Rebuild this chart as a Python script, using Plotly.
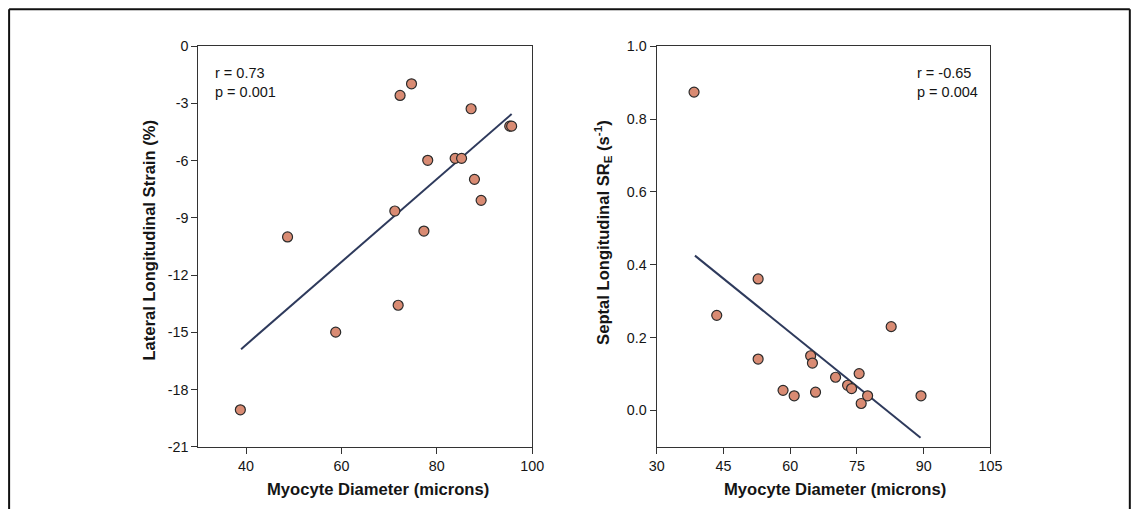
import plotly.graph_objects as go

# Lateral longitudinal strain vs myocyte diameter
lat_diameter = [38.8, 48.7, 58.8, 71.2, 71.9, 72.3, 74.7, 77.3, 78.1, 83.85, 85.2, 87.2, 87.9, 89.3, 95.3, 95.7]
lat_strain = [-19.06, -10.0, -14.99, -8.64, -13.58, -2.58, -1.97, -9.69, -5.98, -5.88, -5.88, -3.28, -6.98, -8.08, -4.19, -4.19]
lat_fit_x = [38.95, 95.7]
lat_fit_y = [-15.88, -3.56]

# Septal longitudinal early strain rate vs myocyte diameter
sep_diameter = [38.4, 43.5, 52.8, 52.8, 58.4, 60.9, 64.6, 65.0, 65.7, 70.2, 72.9, 73.8, 75.5, 75.96, 77.4, 82.7, 89.4]
sep_sre = [0.874, 0.261, 0.361, 0.141, 0.055, 0.040, 0.150, 0.130, 0.050, 0.091, 0.069, 0.060, 0.101, 0.019, 0.040, 0.230, 0.040]
sep_fit_x = [38.6, 89.3]
sep_fit_y = [0.425, -0.075]

lat_yticks = [0, -3, -6, -9, -12, -15, -18, -21]
lat_ytick_text = ["0", "-3", "-6", "-9", "-12", "-15", "-18", "-21"]
lat_xticks = [40, 60, 80, 100]
sep_yticks = [0.0, 0.2, 0.4, 0.6, 0.8, 1.0]
sep_ytick_text = ["0.0", "0.2", "0.4", "0.6", "0.8", "1.0"]
sep_xticks = [30, 45, 60, 75, 90, 105]

W, H = 1143, 517
# the figure sits inside the page's default 8px body margin; the whole page
# (figure + margins) is then shown at W x H, so positions below are given in
# shown-page pixels and converted to paper fractions here
BODY_MARGIN = 8
SX = (W + 2 * BODY_MARGIN) / W
SY = (H + 2 * BODY_MARGIN) / H

FONT = "Liberation Sans, Arial, Helvetica, sans-serif"
AXIS_COLOR = "#333333"
TEXT_COLOR = "#151515"
MARKER = dict(size=10, color="#d98b73", line=dict(color="#2b2b2b", width=1.2))
FIT_LINE = dict(color="#2e3a5c", width=2)


def px_x(p):
    return (p * SX - BODY_MARGIN) / W


def px_y(p):
    return 1 - (p * SY - BODY_MARGIN) / H


fig = go.Figure()

fig.add_trace(go.Scatter(x=lat_fit_x, y=lat_fit_y, mode="lines", line=FIT_LINE,
                         xaxis="x", yaxis="y", showlegend=False, hoverinfo="skip"))
fig.add_trace(go.Scatter(x=lat_diameter, y=lat_strain, mode="markers", marker=MARKER,
                         xaxis="x", yaxis="y", showlegend=False))
fig.add_trace(go.Scatter(x=sep_fit_x, y=sep_fit_y, mode="lines", line=FIT_LINE,
                         xaxis="x2", yaxis="y2", showlegend=False, hoverinfo="skip"))
fig.add_trace(go.Scatter(x=sep_diameter, y=sep_sre, mode="markers", marker=MARKER,
                         xaxis="x2", yaxis="y2", showlegend=False))

axis_common = dict(
    showgrid=False, zeroline=False, showline=True, linecolor=AXIS_COLOR, linewidth=1.3,
    mirror=True, ticks="outside", ticklen=6, tickwidth=1.3, tickcolor=AXIS_COLOR,
    tickfont=dict(family=FONT, size=14.3, color=TEXT_COLOR),
)

ydom = [px_y(447), px_y(46)]

fig.update_layout(
    width=W, height=H, margin=dict(l=0, r=0, t=0, b=0),
    paper_bgcolor="white", plot_bgcolor="white",
    font=dict(family=FONT, color=TEXT_COLOR),
    xaxis=dict(domain=[px_x(199), px_x(534)], range=[30, 100], tickvals=lat_xticks,
               anchor="y", **axis_common),
    yaxis=dict(domain=ydom, range=[-21, 0], tickvals=lat_yticks, ticktext=lat_ytick_text,
               anchor="x", **axis_common),
    xaxis2=dict(domain=[px_x(659), px_x(994)], range=[30, 105], tickvals=sep_xticks,
                anchor="y2", **axis_common),
    yaxis2=dict(domain=ydom, range=[-0.1, 1.0], tickvals=sep_yticks, ticktext=sep_ytick_text,
                anchor="x2", **axis_common),
)

title_font = dict(family=FONT, size=16.6, color=TEXT_COLOR)
stat_font = dict(family=FONT, size=14.5, color=TEXT_COLOR)

annotations = [
    dict(text="<b>Myocyte Diameter (microns)</b>", x=px_x(379), y=px_y(490)),
    dict(text="<b>Myocyte Diameter (microns)</b>", x=px_x(838), y=px_y(490)),
    dict(text="<b>Lateral Longitudinal Strain (%)</b>", x=px_x(149), y=px_y(240), textangle=-90),
    dict(text="<b>Septal Longitudinal SR<sub>E</sub> (s<sup>-1</sup>)</b>", x=px_x(604), y=px_y(232),
         textangle=-90),
]
for a in annotations:
    fig.add_annotation(xref="paper", yref="paper", showarrow=False, font=title_font,
                       xanchor="center", yanchor="middle", **a)

stats = [
    ("r = 0.73", 214, 73), ("p = 0.001", 214, 92),
    ("r = -0.65", 918, 73), ("p = 0.004", 918, 92),
]
for text, xp, yp in stats:
    fig.add_annotation(text=text, xref="paper", yref="paper", x=px_x(xp), y=px_y(yp),
                       xanchor="left", yanchor="middle", showarrow=False, font=stat_font)

# outer frame, open at the bottom
frame = dict(type="line", xref="paper", yref="paper", line=dict(color="#111111", width=2))
x_left, x_right, y_top = px_x(9), 1 - 1.2 / W, px_y(9)
fig.add_shape(x0=x_left, x1=x_left, y0=0, y1=y_top, **frame)
fig.add_shape(x0=x_left, x1=x_right, y0=y_top, y1=y_top, **frame)
fig.add_shape(x0=x_right, x1=x_right, y0=0, y1=y_top, **frame)

fig.write_html("out.html")
